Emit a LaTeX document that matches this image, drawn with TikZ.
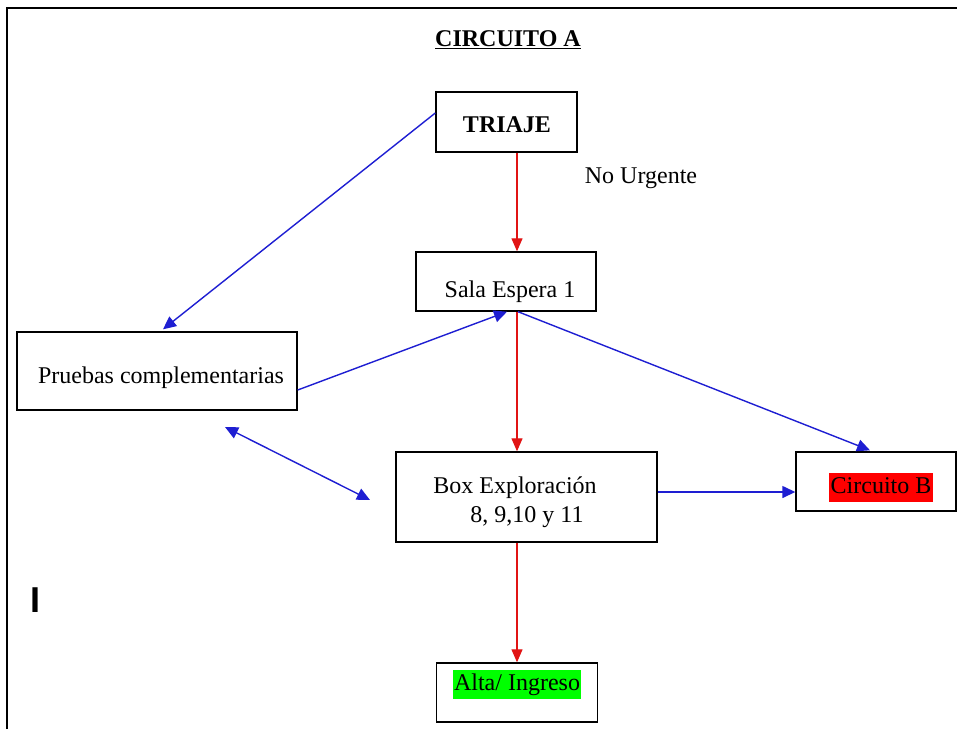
\documentclass[tikz,border=0pt]{standalone}
\usepackage{fontspec}
\setmainfont{Liberation Serif}
\newfontfamily\cursorfont{Liberation Sans}
\usetikzlibrary{arrows.meta,calc}
\definecolor{arrowblue}{RGB}{30,30,210}
\definecolor{arrowred}{RGB}{225,20,20}
\definecolor{hlred}{RGB}{255,0,0}
\definecolor{hlgreen}{RGB}{0,255,0}
\tikzset{
  boxnode/.style={draw=black, line width=1.4pt, fill=white, inner sep=0pt},
  txt/.style={inner sep=0pt, font=\fontsize{24}{28}\selectfont},
  bluearrow/.style={draw=arrowblue, line width=1.4pt, -{Triangle[length=13pt,width=12pt]}},
  bluedouble/.style={draw=arrowblue, line width=1.4pt, {Triangle[length=13pt,width=12pt]}-{Triangle[length=13pt,width=12pt]}},
  redarrow/.style={draw=arrowred, line width=1.2pt, -{Triangle[length=13pt,width=11pt]}},
  hl/.style={txt, inner xsep=1.5pt, inner ysep=2.5pt, text height=18pt, text depth=6pt}
}
\begin{document}
\begin{tikzpicture}[x=1pt,y=-1pt]
\useasboundingbox (0,0) rectangle (957,729);
\fill[white] (0,0) rectangle (957,729);
% frame
\draw[line width=2.5pt] (7,729) -- (7,8) -- (957,8);

% boxes
\node[boxnode, minimum width=141pt, minimum height=60pt] (triaje) at (506.5,122) {};
\node[boxnode, minimum width=180pt, minimum height=59pt] (sala) at (506,281.5) {};
\node[boxnode, minimum width=280pt, minimum height=78pt] (pruebas) at (157,371) {};
\node[boxnode, minimum width=261pt, minimum height=90pt] (box) at (526.5,497) {};
\node[boxnode, minimum width=160pt, minimum height=59pt] (circB) at (876,481.5) {};
\node[boxnode, minimum width=161pt, minimum height=59pt] (alta) at (517,692.5) {};

% texts
\node[txt, font=\fontsize{24}{28}\selectfont\bfseries] (title) at (508,40) {\underline{CIRCUITO A}};
\node[txt, font=\fontsize{24}{28}\selectfont\bfseries] (ttriaje) at (507,125) {TRIAJE};
\node[txt] (nourg) at (641,178) {No Urgente};
\node[txt] (tsala) at (510,292) {Sala Espera 1};
\node[txt] (tpruebas) at (161,378) {Pruebas complementarias};
\node[txt] (tbox1) at (515,488) {Box Exploración};
\node[txt] (tbox2) at (527,517) {8, 9,10 y 11};
\node[hl, fill=hlred] (tcircB) at (881,487.5) {Circuito B};
\node[hl, fill=hlgreen] (talta) at (517,684) {Alta/ Ingreso};
\node[inner sep=0pt, font=\cursorfont\bfseries\fontsize{36}{40}\selectfont] (cursor) at (36,600) {I};

% red connectors
\draw[redarrow] ([xshift=10.5pt]triaje.south) -- ([xshift=11pt]sala.north);
\draw[redarrow] ([xshift=11pt]sala.south) -- ([xshift=-9.5pt]box.north);
\draw[redarrow] ([xshift=-9.5pt]box.south) -- (alta.north);

% blue connectors
\draw[bluearrow] ([yshift=9pt]triaje.west) -- ([xshift=6pt,yshift=2pt]pruebas.north);
\draw[bluearrow] ([yshift=-19pt]pruebas.east) -- ([xshift=1pt]sala.south);
\draw[bluearrow] ([xshift=12pt]sala.south) -- ([xshift=-6pt,yshift=1pt]circB.north);
\draw[bluearrow] ([yshift=5pt]box.east) -- ([yshift=5pt]box.east -| circB.west);
\coordinate (dA) at (225,427);
\coordinate (dB) at (370,500);
\draw[bluedouble] (dA) -- (dB);
\end{tikzpicture}
\end{document}
